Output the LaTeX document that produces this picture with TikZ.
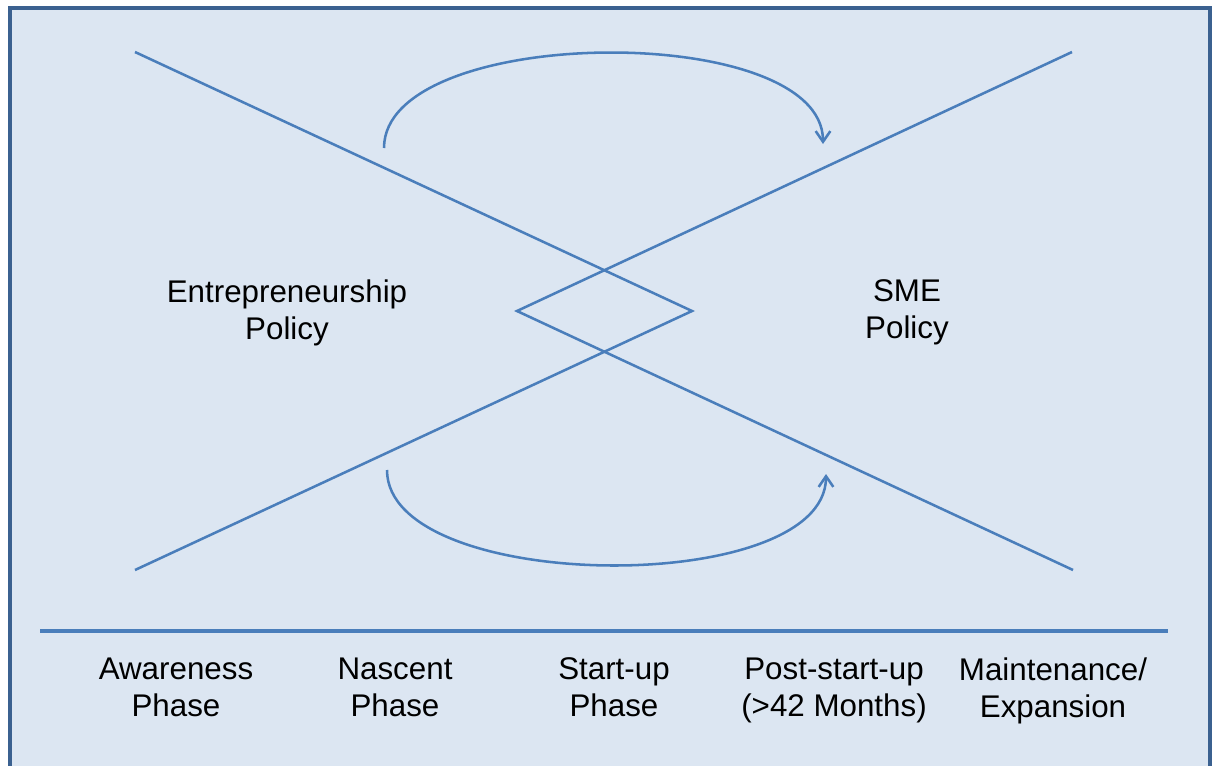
\documentclass[tikz,border=0pt]{standalone}
\usepackage{fontspec}
\setmainfont{Liberation Sans}
\usetikzlibrary{arrows.meta}
\definecolor{panel}{HTML}{DCE6F2}
\definecolor{frameblue}{HTML}{3B6190}
\definecolor{lineblue}{HTML}{4A7EBB}

\begin{document}
\begin{tikzpicture}[x = 0.75pt, y = -0.75pt,
  ln/.style = {draw = lineblue, line width = 1.9pt},
  flow/.style = {ln, -{Straight Barb[length = 8pt, width = 11pt]}},
  txt/.style = {align = center, inner sep = 0pt, font = \fontsize{23.5}{27.8}\selectfont,
    execute at begin node = \strut, execute at end node = \strut}]
\useasboundingbox (0,0) rectangle (1216,765);
\fill[panel] (10,8) rectangle (1210,790);
\draw[frameblue, line width = 3pt] (10,790) -- (10,8) -- (1210,8) -- (1210,790);

\coordinate (ul) at (135,52);
\coordinate (ur) at (1072,52);
\coordinate (ll) at (135,570);
\coordinate (lr) at (1073,570);
\coordinate (dl) at (517,311);
\coordinate (dr) at (692,311);
\draw[ln] (ul) -- (dr) -- (ll);
\draw[ln] (ur) -- (dl) -- (lr);

\coordinate (ta) at (384,148);
\coordinate (tb) at (823,144);
\coordinate (ba) at (387,470);
\coordinate (bb) at (826,474);
\draw[flow] (ta) .. controls +(0,-124) and +(0,-124) .. (tb);
\draw[flow] (ba) .. controls +(0,124) and +(0,124) .. (bb);

\node[txt] (entre) at (287,315) {Entrepreneurship\\Policy};
\node[txt] (sme) at (907,315) {SME\\Policy};

\coordinate (rl) at (40,631);
\coordinate (rr) at (1168,631);
\draw[ln, line width = 2.4pt] (rl) -- (rr);

\node[txt] (aware) at (176,693) {Awareness\\Phase};
\node[txt] (nasc) at (395,693) {Nascent\\Phase};
\node[txt] (start) at (614,693) {Start-up\\Phase};
\node[txt] (post) at (834,693) {Post-start-up\\(>42 Months)};
\node[txt] (maint) at (1053,693) {Maintenance/\\Expansion};
\end{tikzpicture}
\end{document}
